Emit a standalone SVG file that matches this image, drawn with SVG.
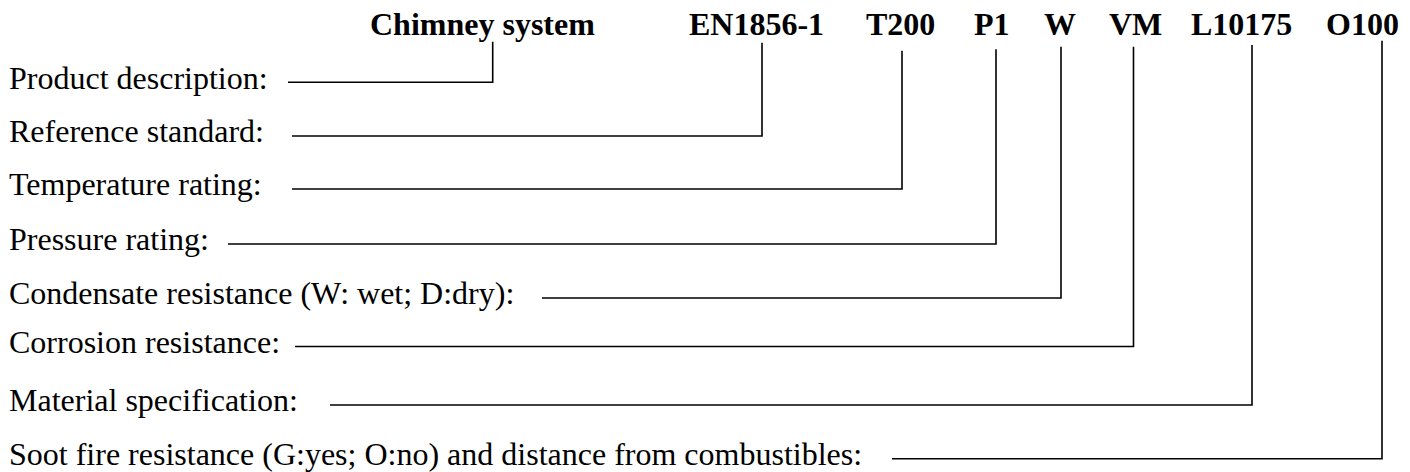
<svg xmlns="http://www.w3.org/2000/svg" width="1410" height="472" viewBox="0 0 1410 472">
<style>
.hd{font-family:"Liberation Serif","Times New Roman",serif;font-size:32px;font-weight:bold;fill:#000}
.lb{font-family:"Liberation Serif","Times New Roman",serif;font-size:32px;fill:#000}
.cn{fill:none;stroke:#000;stroke-width:1.6;stroke-linejoin:miter;stroke-linecap:butt}
</style>
<rect width="1410" height="472" fill="#fff"/>
<g id="header">
<g id="h-chimney"><text class="hd" x="370" y="35">Chimney system</text></g>
<g id="h-en"><text class="hd" x="689" y="35">EN1856-1</text></g>
<g id="h-t200"><text class="hd" x="866" y="35">T200</text></g>
<g id="h-p1"><text class="hd" x="974" y="35">P1</text></g>
<g id="h-w"><text class="hd" x="1044" y="35">W</text></g>
<g id="h-vm"><text class="hd" x="1109" y="35">VM</text></g>
<g id="h-l"><text class="hd" x="1191" y="35">L10175</text></g>
<g id="h-o"><text class="hd" x="1326" y="35">O100</text></g>
</g>
<g id="labels">
<g id="l-product"><text class="lb" x="9" y="89">Product description:</text></g>
<g id="l-reference"><text class="lb" x="9" y="142">Reference standard:</text></g>
<g id="l-temperature"><text class="lb" x="9" y="195">Temperature rating:</text></g>
<g id="l-pressure"><text class="lb" x="9" y="250">Pressure rating:</text></g>
<g id="l-condensate"><text class="lb" x="9" y="304">Condensate resistance (W: wet; D:dry):</text></g>
<g id="l-corrosion"><text class="lb" x="9" y="353">Corrosion resistance:</text></g>
<g id="l-material"><text class="lb" x="9" y="411">Material specification:</text></g>
<g id="l-soot"><text class="lb" x="9" y="465">Soot fire resistance (G:yes; O:no) and distance from combustibles:</text></g>
</g>
<g id="connectors">
<path class="cn" d="M288 82.3H492.7V41.7"/>
<path class="cn" d="M292 136H762V42.7"/>
<path class="cn" d="M292 189H902V50.7"/>
<path class="cn" d="M228 244H996V49.3"/>
<path class="cn" d="M542 298H1061V46.7"/>
<path class="cn" d="M295 346.5H1133.5V46.7"/>
<path class="cn" d="M330 405H1252V45"/>
<path class="cn" d="M892 458.7H1382V40.7"/>
</g>
</svg>
